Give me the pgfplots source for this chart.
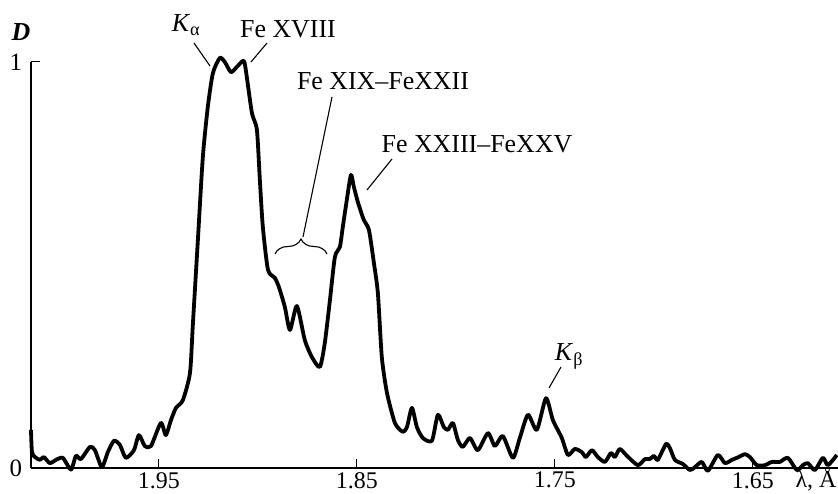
\documentclass[border=0pt]{standalone}
\usepackage{pgfplots}
\pgfplotsset{compat=1.18}
\usetikzlibrary{decorations.pathreplacing}
\usepackage{fontspec}
\setmainfont{Liberation Serif}

\pgfplotstableread{
x y
2.0146 0.094
2.0141 0.039
2.0126 0.027
2.0101 0.020
2.0081 0.027
2.0051 0.012
2.0020 0.020
1.9985 0.025
1.9944 -0.004
1.9919 0.030
1.9894 0.022
1.9848 0.052
1.9823 0.044
1.9788 0.002
1.9758 0.039
1.9727 0.067
1.9697 0.057
1.9667 0.025
1.9626 0.044
1.9601 0.081
1.9571 0.054
1.9540 0.054
1.9490 0.111
1.9465 0.081
1.9439 0.118
1.9414 0.148
1.9379 0.167
1.9343 0.234
1.9328 0.357
1.9303 0.562
1.9278 0.766
1.9253 0.889
1.9227 0.973
1.9192 1.010
1.9167 1.000
1.9136 0.975
1.9106 0.988
1.9071 1.003
1.9056 0.963
1.9030 0.874
1.9005 0.833
1.8990 0.709
1.8975 0.594
1.8949 0.488
1.8914 0.468
1.8894 0.446
1.8864 0.397
1.8838 0.340
1.8803 0.399
1.8763 0.315
1.8727 0.273
1.8687 0.249
1.8662 0.308
1.8636 0.414
1.8611 0.520
1.8586 0.544
1.8571 0.594
1.8551 0.660
1.8530 0.722
1.8515 0.692
1.8495 0.655
1.8465 0.611
1.8439 0.586
1.8414 0.505
1.8394 0.431
1.8374 0.273
1.8348 0.185
1.8308 0.111
1.8268 0.089
1.8247 0.101
1.8222 0.148
1.8197 0.101
1.8167 0.074
1.8121 0.067
1.8091 0.131
1.8061 0.101
1.8040 0.094
1.8015 0.111
1.7990 0.069
1.7965 0.052
1.7929 0.074
1.7889 0.044
1.7838 0.086
1.7803 0.054
1.7763 0.079
1.7712 0.025
1.7677 0.074
1.7636 0.131
1.7591 0.094
1.7545 0.172
1.7510 0.118
1.7465 0.074
1.7434 0.032
1.7399 0.047
1.7364 0.039
1.7343 0.027
1.7313 0.044
1.7283 0.027
1.7247 0.015
1.7217 0.037
1.7197 0.027
1.7172 0.047
1.7136 0.030
1.7081 0.007
1.7045 0.022
1.7020 0.022
1.7000 0.030
1.6980 0.020
1.6939 0.059
1.6919 0.049
1.6894 0.020
1.6854 0.010
1.6818 -0.005
1.6793 0.002
1.6758 0.015
1.6727 -0.007
1.6677 0.032
1.6641 0.012
1.6606 0.020
1.6581 0.025
1.6540 0.034
1.6515 0.027
1.6480 0.007
1.6439 0.007
1.6404 0.015
1.6364 0.015
1.6323 0.025
1.6278 -0.005
1.6247 0.007
1.6222 0.012
1.6187 -0.005
1.6146 0.025
1.6121 0.007
1.6076 0.032
}\spectrum

\begin{document}
\fontsize{26}{31}\selectfont
\begin{tikzpicture}
\useasboundingbox (-31bp,-26bp) rectangle (807bp,468bp);
\begin{axis}[
  at={(0,0)}, anchor=south west,
  scale only axis, width=807bp, height=406bp,
  x dir=reverse, xmin=1.6070, xmax=2.0146, ymin=0, ymax=1,
  axis lines=left, axis line style={-, line width=1.1bp, black},
  clip=false,
  xtick={1.95,1.85,1.75,1.65}, xticklabels={1.95,1.85,1.75,1.65},
  ytick={1}, yticklabels={1},
  extra y ticks={0}, extra y tick labels={0},
  extra y tick style={major tick length=0pt},
  tick align=inside, major tick length=9bp,
  tick style={line width=1bp, black},
  ticklabel style={font=\fontsize{25}{30}\selectfont},
  xticklabel style={inner sep=0pt, yshift=-4bp, font=\fontsize{24}{28}\selectfont},
]
\addplot[black, line width=3.8bp, line join=round, smooth, tension=0.4] table[x=x,y=y] {\spectrum};
\end{axis}
\begin{scope}[x=1bp,y=-1bp,shift={(-31bp,468bp)}, line width=1.1bp]
  \node[anchor=base] at (21,41) {\textbf{\textit{D}}};
  \node[anchor=base] at (186,32) {\textit{K}\textsubscript{α}};
  \node[anchor=base] at (288,38) {Fe XVIII};
  \node[anchor=base] at (383,90) {Fe XIX–FeXXII};
  \node[anchor=base] at (477,153) {Fe XXIII–FeXXV};
  \node[anchor=base] at (569,361) {\textit{K}\textsubscript{β}};
  \node[anchor=base east, inner sep=0pt, font=\fontsize{24}{28}\selectfont] at (837,488) {λ, Å};
  \draw (194,43) -- (210,66);
  \draw (267,43) -- (251,62);
  \draw (332,97) -- (303,237);
  \draw (392,159) -- (367,190);
  \draw (561,367) -- (549,388);
  \draw[decorate, decoration={brace, amplitude=15bp}] (275,254) -- (327,254);
\end{scope}
\end{tikzpicture}
\end{document}
